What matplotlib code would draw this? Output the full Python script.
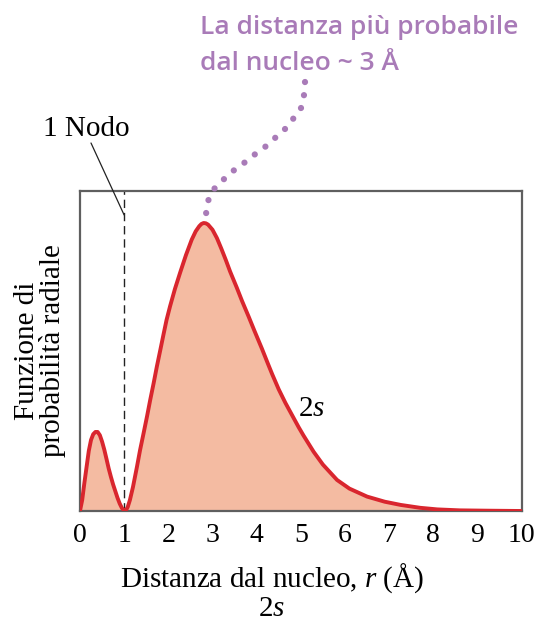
import matplotlib
matplotlib.use("Agg")
import matplotlib.pyplot as plt

# Data (radial probability, as fraction of axis height)
r_values = [0.00, 0.05, 0.10, 0.15, 0.20, 0.25, 0.30, 0.35, 0.40, 0.45, 0.50, 0.55, 0.60, 0.65,
            0.70, 0.75, 0.80, 0.85, 0.90, 0.95, 1.00, 1.03, 1.08, 1.13, 1.20, 1.29, 1.36, 1.44,
            1.52, 1.59, 1.67, 1.74, 1.82, 1.89, 1.96, 2.04, 2.15, 2.27, 2.40, 2.53, 2.62, 2.70,
            2.75, 2.80, 2.85, 2.90, 3.00, 3.10, 3.20, 3.30, 3.40, 3.55, 3.67, 3.82, 3.95, 4.12,
            4.25, 4.35, 4.50, 4.65, 4.80, 4.95, 5.06, 5.29, 5.50, 5.82, 6.10, 6.50, 6.90, 7.26,
            7.70, 8.09, 8.60, 9.20, 10.0]
p_values = [0.000, 0.034, 0.088, 0.138, 0.188, 0.222, 0.240, 0.247, 0.247, 0.237, 0.217, 0.192, 0.163, 0.133,
            0.107, 0.083, 0.062, 0.041, 0.023, 0.009, 0.002, 0.000, 0.012, 0.034, 0.075, 0.138, 0.190, 0.243,
            0.297, 0.347, 0.401, 0.451, 0.504, 0.551, 0.597, 0.640, 0.694, 0.746, 0.800, 0.848, 0.874, 0.890,
            0.897, 0.900, 0.899, 0.895, 0.879, 0.853, 0.820, 0.785, 0.748, 0.698, 0.656, 0.607, 0.563, 0.507,
            0.462, 0.428, 0.380, 0.338, 0.300, 0.262, 0.236, 0.185, 0.145, 0.097, 0.070, 0.045, 0.029, 0.019,
            0.010, 0.005, 0.002, 0.001, 0.000]
x_ticks = [0, 1, 2, 3, 4, 5, 6, 7, 8, 9, 10]
node_r = 1.0

plt.rcParams["mathtext.fontset"] = "custom"
plt.rcParams["mathtext.rm"] = "Liberation Serif"
plt.rcParams["mathtext.it"] = "Liberation Serif:italic"

serif = ["Liberation Serif", "DejaVu Serif"]
sans = ["Open Sans", "DejaVu Sans"]
red = "#d9262e"
fill_c = "#f4bba2"
purple = "#a97bb8"
FS = 21

fig = plt.figure(figsize=(5.44, 6.25), dpi=100)
ax = fig.add_axes([0.147, 0.1824, 0.812, 0.512])
ax.set_xlim(0, 10)
ax.set_ylim(0, 1)

ax.fill_between(r_values, p_values, 0, color=fill_c, lw=0, zorder=1)
ax.plot(r_values, p_values, color=red, lw=2.8, solid_joinstyle="round",
        solid_capstyle="round", zorder=3)
ax.axvline(node_r, color="#222222", lw=1.0, dashes=(6, 3.5), zorder=2)

for s in ax.spines.values():
    s.set_color("#5f5f5f")
    s.set_linewidth(1.6)

ax.set_xticks(x_ticks)
ax.set_xticklabels([str(t) for t in x_ticks], fontsize=20, family=serif)
ax.tick_params(axis="x", length=0, pad=9)
ax.set_yticks([])

fig.text(0.5, 1 - 578 / 625, "Distanza dal nucleo, $\\it{r}$ (Å)", fontsize=FS, family=serif,
         ha="center", va="center")
fig.text(0.5, 1 - 609 / 625, "2$\\it{s}$", fontsize=FS, family=serif, ha="center", va="center")
fig.text(40 / 544, 1 - 351 / 625, "Funzione di\nprobabilità radiale", fontsize=FS, family=serif,
         rotation=90, ha="center", va="center", multialignment="center", linespacing=1.0)

ax.text(5.24, 0.32, "2$\\it{s}$", fontsize=FS, family=serif, ha="center", va="center")

# 1 Nodo annotation
fig.text(86 / 544, 1 - 129 / 625, "1 Nodo", fontsize=FS, family=serif, ha="center", va="center")
ax.annotate("", xy=(node_r, 0.925), xycoords="data",
            xytext=(91 / 544, 1 - 143 / 625), textcoords="figure fraction",
            arrowprops=dict(arrowstyle="-", color="#222222", lw=0.9, shrinkA=0, shrinkB=0),
            annotation_clip=False)

# Purple annotation text
fig.text(200 / 544, 1 - 28 / 625, "La distanza più probabile", fontsize=19, color=purple,
         family=sans, fontweight="semibold", ha="left", va="center")
fig.text(200 / 544, 1 - 64 / 625, "dal nucleo ~ 3 Å", fontsize=19, color=purple,
         family=sans, fontweight="semibold", ha="left", va="center")

# Dotted leader (figure pixel positions along the guide)
guide_px = [(305, 82), (304, 95), (301, 108), (293, 119), (285, 129), (275, 138), (265, 147),
            (254, 155), (244, 163), (233, 171), (223, 180), (214, 189), (208, 201), (206, 214)]
gx = [x / 544 for x, y in guide_px]
gy = [1 - y / 625 for x, y in guide_px]
fig.add_artist(plt.Line2D(gx, gy, transform=fig.transFigure, color=purple, lw=4.5,
                          linestyle=(0, (0.01, 2.1)), dash_capstyle="round",
                          solid_joinstyle="round"))

fig.savefig("out.png", dpi=100)
